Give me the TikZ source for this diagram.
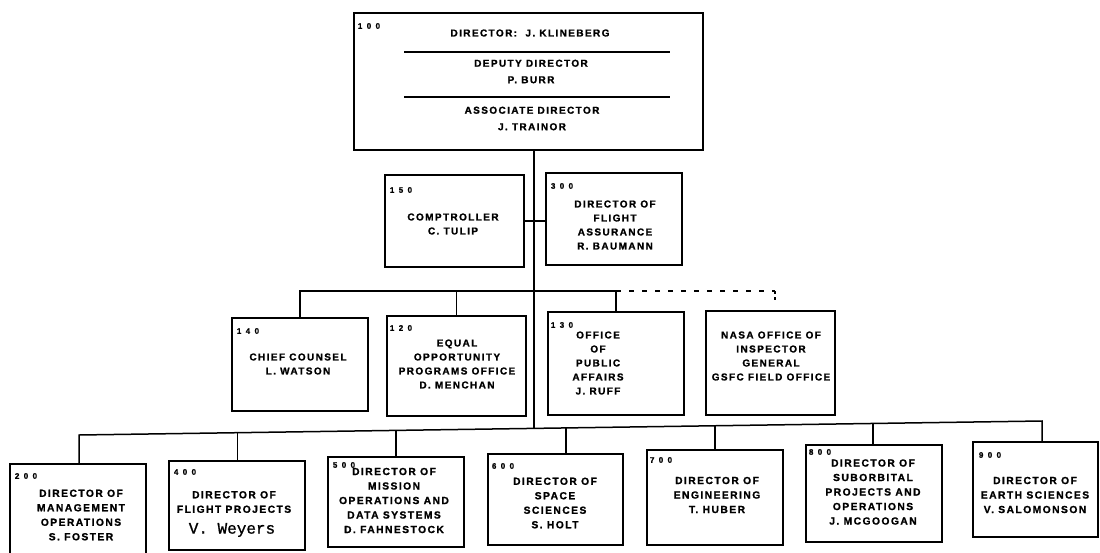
\documentclass[tikz,border=0pt]{standalone}
\usepackage{fontspec}
\usetikzlibrary{fit}
\newfontfamily\labfam{Liberation Sans}[LetterSpace=14, FakeBold=1.2]
\newfontfamily\numfam{Liberation Sans}[LetterSpace=55, FakeBold=1.2]
\newfontfamily\monofam{Liberation Mono}[FakeBold=1]
\tikzset{
 box/.style={draw, line width=1.7pt, inner sep=0pt},
 txt/.style={font={\fontsize{10}{14}\labfam\bfseries}, align=center, inner sep=0pt},
 txtb/.style={font={\fontsize{10.3}{14.5}\labfam\bfseries}, align=center, inner sep=0pt},
 txtt/.style={font={\fontsize{10}{16.5}\labfam\bfseries}, align=center, inner sep=0pt},
 num/.style={font={\fontsize{8}{9}\numfam\bfseries}, inner sep=0pt},
 mono/.style={font={\fontsize{16}{16}\monofam}, inner sep=0pt},
 conn/.style={line width=1.5pt},
 rule/.style={line width=1.7pt},
 dots/.style={line width=2.4pt, dash pattern=on 4.5pt off 8.5pt},
 tick/.style={line width=2.4pt, dash pattern=on 3pt off 3pt},
}
\begin{document}
\begin{tikzpicture}[x=1pt,y=-1pt]
\fill[white] (0,0) rectangle (1100,552);
\useasboundingbox (0,0) rectangle (1100,552);

% top
\node[box, fit={(354,13) (703,150)}] (b100) {};
\node[num] (n100) at (369,26) {100};
\node[txt] (t100a) at (530,33) {DIRECTOR:\ \ J. KLINEBERG};
\draw[rule] (404,52) -- (670,52);
\node[txtt] (t100b) at (531,71.5) {DEPUTY DIRECTOR\\P. BURR};
\draw[rule] (404,97) -- (670,97);
\node[txtt] (t100c) at (532,118.5) {ASSOCIATE DIRECTOR\\J. TRAINOR};

% middle
\node[box, fit={(385,175) (524,267)}] (b150) {};
\node[num] (n150) at (401,190) {150};
\node[txt] (t150) at (453,224) {COMPTROLLER\\C. TULIP};
\node[box, fit={(546,173) (682,265)}] (b300) {};
\node[num] (n300) at (562,186) {300};
\node[txt] (t300) at (615,225) {DIRECTOR OF\\FLIGHT\\ASSURANCE\\R. BAUMANN};

% third row
\node[box, fit={(232,318) (368,411)}] (b140) {};
\node[num] (n140) at (248,331) {140};
\node[txt] (t140) at (298,364) {CHIEF COUNSEL\\L. WATSON};
\node[box, fit={(387,316) (526,416)}] (b120) {};
\node[num] (n120) at (401,328) {120};
\node[txt] (t120) at (457,364) {EQUAL\\OPPORTUNITY\\PROGRAMS OFFICE\\D. MENCHAN};
\node[box, fit={(548,312) (684,415)}] (b130) {};
\node[num] (n130) at (562,325) {130};
\node[txt] (t130) at (598,363) {OFFICE\\OF\\PUBLIC\\AFFAIRS\\J. RUFF};
\node[box, fit={(706,311) (835,415)}] (bIG) {};
\node[txt] (tIG) at (771,356) {NASA OFFICE OF\\INSPECTOR\\GENERAL\\GSFC FIELD OFFICE};

% bottom row
\node[box, fit={(10,464) (146,556)}] (b200) {};
\node[num] (n200) at (26,476) {200};
\node[txtb] (t200) at (81,515) {DIRECTOR OF\\MANAGEMENT\\OPERATIONS\\S. FOSTER};
\node[box, fit={(169,461) (305,550)}] (b400) {};
\node[num] (n400) at (185,472) {400};
\node[txtb] (t400) at (234,502) {DIRECTOR OF\\FLIGHT PROJECTS};
\node[mono] (w400) at (232,530) {V. Weyers};
\node[box, fit={(328,457) (464,547)}] (b500) {};
\node[num] (n500) at (344,465) {500};
\node[txtb] (t500) at (394,500.5) {DIRECTOR OF\\MISSION\\OPERATIONS AND\\DATA SYSTEMS\\D. FAHNESTOCK};
\node[box, fit={(488,454) (623,545)}] (b600) {};
\node[num] (n600) at (503,466) {600};
\node[txtb] (t600) at (555,503) {DIRECTOR OF\\SPACE\\SCIENCES\\S. HOLT};
\node[box, fit={(647,450) (783,545)}] (b700) {};
\node[num] (n700) at (661,460) {700};
\node[txtb] (t700) at (717,495) {DIRECTOR OF\\ENGINEERING\\T. HUBER};
\node[box, fit={(806,445) (942,542)}] (b800) {};
\node[num] (n800) at (820,452) {800};
\node[txtb] (t800) at (873,492) {DIRECTOR OF\\SUBORBITAL\\PROJECTS AND\\OPERATIONS\\J. MCGOOGAN};
\node[box, fit={(973,442) (1098,537)}] (b900) {};
\node[num] (n900) at (990,455) {900};
\node[txtb] (t900) at (1035,495) {DIRECTOR OF\\EARTH SCIENCES\\V. SALOMONSON};

% connectors
\coordinate (m1) at (534,291);
\coordinate (m2) at (534,428.4);
\draw[conn] (b100.south -| m1) -- (m1) -- (m2);
\draw[conn] (b150.east) -- (b150.east -| b300.west);
\draw[conn] (b140.north) |- (m1) -- (m1 -| b130.north) -- (b130.north);
\draw[conn] (b120.north) -- (b120.north |- m1);
\coordinate (dIG) at (775,291);
\coordinate (eIG) at (775,302);
\draw[dots] (m1 -| b130.north) -- (dIG);
\draw[tick] (dIG) -- (eIG);

\coordinate (d200) at (79,435);
\coordinate (d400) at (237.5,432.7);
\coordinate (d500) at (396,430.4);
\coordinate (d600) at (566,427.9);
\coordinate (d700) at (715,425.8);
\coordinate (d800) at (873,423.5);
\coordinate (d900) at (1042,421);
\draw[conn] (d200 |- b200.north) -- (d200) -- (d900) -- (d900 |- b900.north);
\draw[conn] (d400) -- (d400 |- b400.north);
\draw[conn] (d500) -- (d500 |- b500.north);
\draw[conn] (d600) -- (d600 |- b600.north);
\draw[conn] (d700) -- (d700 |- b700.north);
\draw[conn] (d800) -- (d800 |- b800.north);
\end{tikzpicture}
\end{document}
